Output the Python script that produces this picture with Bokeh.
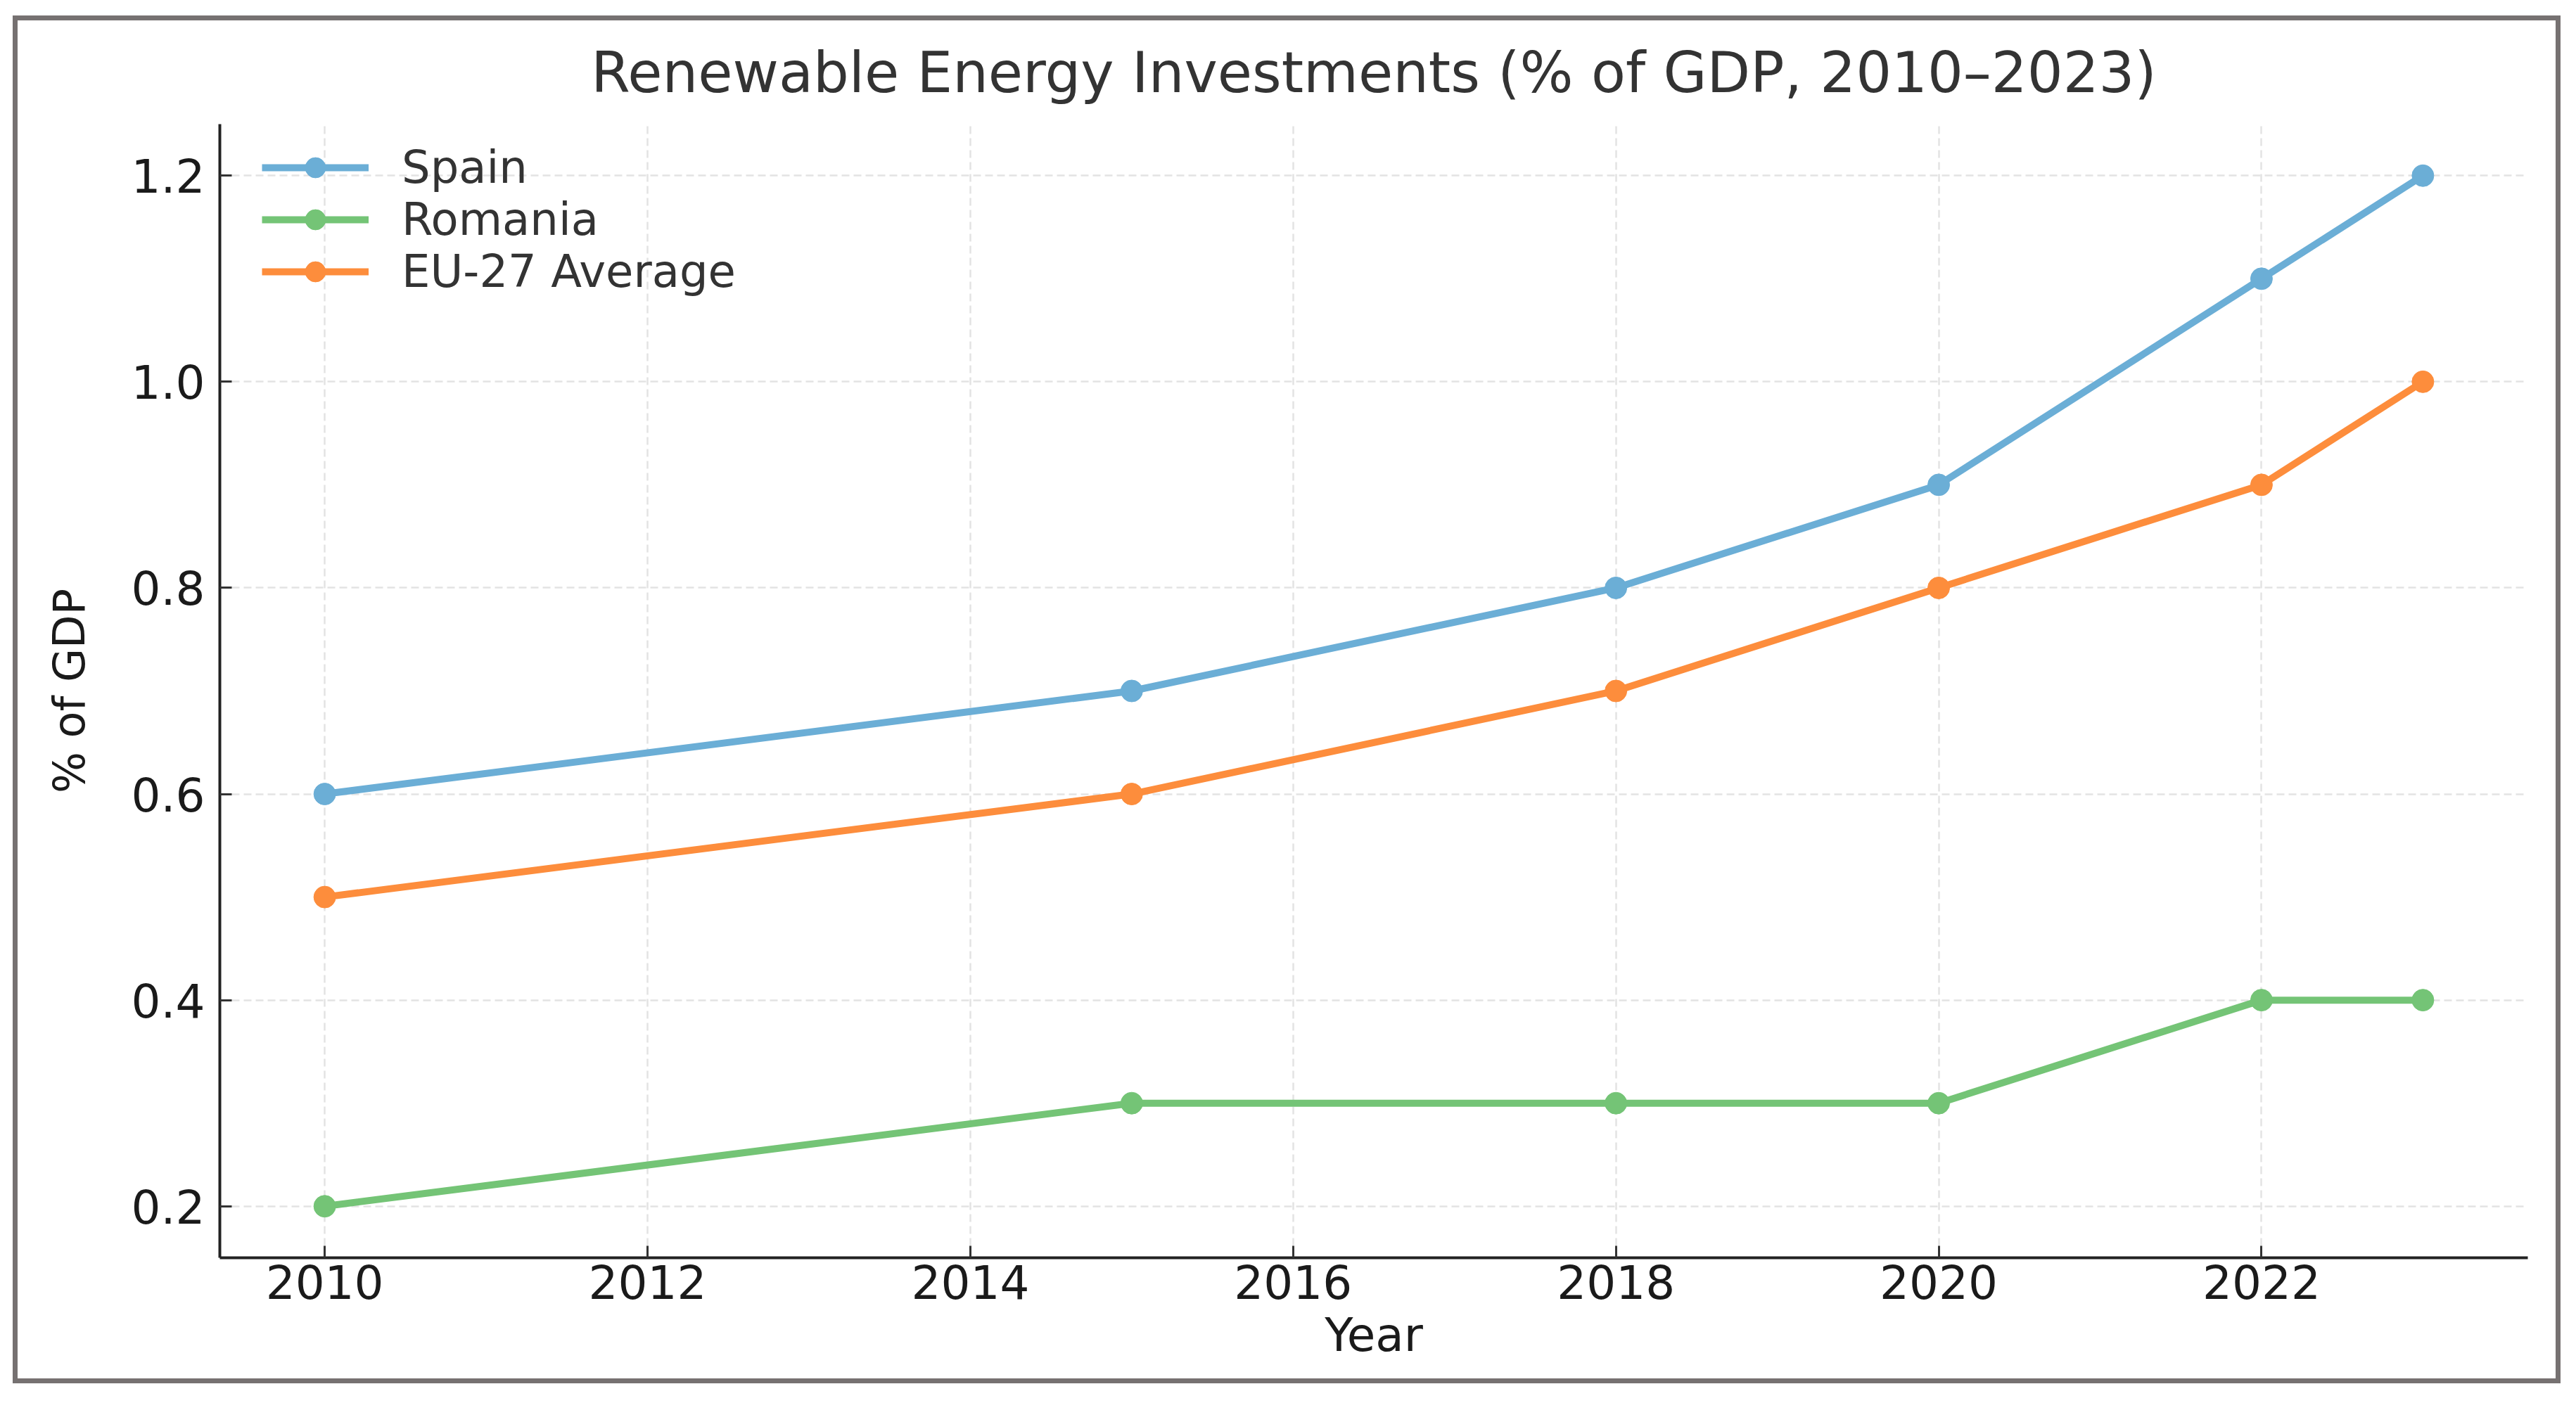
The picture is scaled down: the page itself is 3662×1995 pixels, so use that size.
from bokeh.plotting import figure
from bokeh.models import FixedTicker, NumeralTickFormatter, Range1d, Legend
from bokeh.embed import file_html
from bokeh.resources import INLINE

# ---- data ----
years = [2010, 2015, 2018, 2020, 2022, 2023]
spain = [0.6, 0.7, 0.8, 0.9, 1.1, 1.2]
romania = [0.2, 0.3, 0.3, 0.3, 0.4, 0.4]
eu27 = [0.5, 0.6, 0.7, 0.8, 0.9, 1.0]
series_names = ["Spain", "Romania", "EU-27 Average"]
series_colors = ["#6baed6", "#74c476", "#fd8d3c"]
x_ticks = [2010, 2012, 2014, 2016, 2018, 2020, 2022]
y_ticks = [0.2, 0.4, 0.6, 0.8, 1.0, 1.2]
title_text = "Renewable Energy Investments (% of GDP, 2010\u20132023)"
x_label = "Year"
y_label = "% of GDP"

FONT = "DejaVu Sans"

p = figure(
    width=3622, height=1945,
    output_backend="svg", toolbar_location=None,
    x_range=Range1d(2009.35, 2023.65), y_range=Range1d(0.15, 1.25),
    min_border_left=294, min_border_right=47, min_border_top=154, min_border_bottom=179,
    title=title_text,
)
p.margin = (22, 0, 0, 18)
p.styles = {
    "background-color": "white",
    "box-shadow": "inset 0 0 0 7px #767171",
    "outline": "7px solid #767171",
    "outline-offset": "-7px",
}
p.outline_line_color = None
p.background_fill_color = "white"
p.border_fill_alpha = 0

p.title.align = "center"
p.title.vertical_align = "bottom"
p.title.text_font = FONT
p.title.text_font_size = "80px"
p.title.text_font_style = "normal"
p.title.text_color = "#333333"
p.title.standoff = 54

for ax in (p.xaxis[0], p.yaxis[0]):
    ax.axis_line_color = "#222222"
    ax.axis_line_width = 4
    ax.major_tick_line_color = "#333333"
    ax.major_tick_line_width = 3
    ax.major_tick_in = 17
    ax.major_tick_out = 0
    ax.minor_tick_line_color = None
    ax.major_label_text_font = FONT
    ax.major_label_text_font_size = "66px"
    ax.major_label_text_color = "#1a1a1a"
    ax.axis_label_text_font = FONT
    ax.axis_label_text_font_style = "normal"
    ax.axis_label_text_color = "#1a1a1a"

p.xaxis[0].ticker = FixedTicker(ticks=x_ticks)
p.xaxis[0].major_label_standoff = 9
p.xaxis[0].axis_label = x_label
p.xaxis[0].axis_label_text_font_size = "66px"
p.xaxis[0].axis_label_standoff = 10

p.yaxis[0].ticker = FixedTicker(ticks=y_ticks)
p.yaxis[0].formatter = NumeralTickFormatter(format="0.0")
p.yaxis[0].major_label_standoff = 21
p.yaxis[0].axis_label = y_label
p.yaxis[0].axis_label_text_font_size = "62px"
p.yaxis[0].axis_label_standoff = 49

for g in (p.xgrid[0], p.ygrid[0]):
    g.grid_line_color = "#e3e3e3"
    g.grid_line_width = 2.5
    g.grid_line_dash = "11 6"

items = []
for name, vals, col in zip(series_names, [spain, romania, eu27], series_colors):
    r1 = p.line(years, vals, line_color=col, line_width=10)
    r2 = p.scatter(years, vals, marker="circle", size=31, fill_color=col, line_color=col)
    items.append((name, [r1, r2]))

legend = Legend(items=items)
legend.location = (60, 1365)
legend.margin = 0
legend.padding = 0
legend.spacing = 0
legend.glyph_width = 152
legend.glyph_height = 72
legend.label_height = 72
legend.label_standoff = 47
legend.label_text_font = FONT
legend.label_text_font_size = "64px"
legend.label_text_color = "#333333"
legend.background_fill_alpha = 0
legend.border_line_color = None
p.add_layout(legend)

open("out.html", "w").write(file_html(p, INLINE))
